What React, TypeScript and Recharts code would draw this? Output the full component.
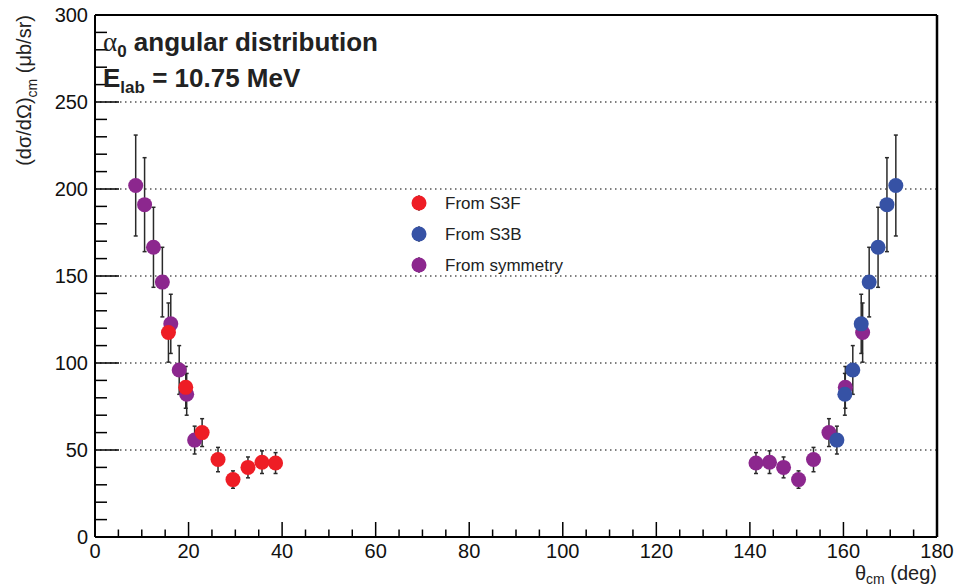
import React from 'react';
import { ScatterChart, Scatter, XAxis, YAxis, CartesianGrid, ErrorBar, Legend } from 'recharts';

// theta_cm (deg), dsigma/dOmega (ub/sr), error
const s3fTheta = [15.7, 19.4, 22.9, 26.3, 29.5, 32.7, 35.7, 38.6];
const s3fValue = [117.5, 86, 60, 44.5, 33, 40, 43, 42.5];
const s3fError = [17, 12, 8, 7, 5, 6, 6.5, 6];

const s3bTheta = [171.2, 169.3, 167.4, 165.5, 163.8, 162.0, 160.3, 158.6];
const s3bValue = [202, 191, 166.5, 146.5, 122.5, 96, 82, 55.7];
const s3bError = [29, 27, 23, 20, 17, 14, 12, 8];

const symTheta = [8.7, 10.6, 12.5, 14.4, 16.2, 18.0, 19.6, 21.3, 164.1, 160.4, 156.9, 153.6, 150.4, 147.2, 144.2, 141.3];
const symValue = [202, 191, 166.5, 146.5, 122.5, 96, 82, 55.7, 117.5, 86, 60, 44.5, 33, 40, 43, 42.5];
const symError = [29, 27, 23, 20, 17, 14, 12, 8, 17, 12, 8, 7, 5, 6, 6.5, 6];

const xTicks = [0, 5, 10, 15, 20, 25, 30, 35, 40, 45, 50, 55, 60, 65, 70, 75, 80, 85, 90, 95, 100, 105, 110, 115, 120, 125, 130, 135, 140, 145, 150, 155, 160, 165, 170, 175, 180];
const yTicks = [0, 10, 20, 30, 40, 50, 60, 70, 80, 90, 100, 110, 120, 130, 140, 150, 160, 170, 180, 190, 200, 210, 220, 230, 240, 250, 260, 270, 280, 290, 300];
const gridValues = [50, 100, 150, 200, 250];

const RED = '#ee1d25';
const BLUE = '#3652a5';
const PURPLE = '#8c278e';

const legendItems = [
  { name: 'From S3F', color: RED },
  { name: 'From S3B', color: BLUE },
  { name: 'From symmetry', color: PURPLE },
];

const FONT = '"Liberation Sans", Arial, Helvetica, sans-serif';

const toRows = (theta: number[], value: number[], err: number[]) =>
  theta.map((t, i) => ({ theta: t, value: value[i], err: err[i] }));

const s3fData = toRows(s3fTheta, s3fValue, s3fError);
const s3bData = toRows(s3bTheta, s3bValue, s3bError);
const symData = toRows(symTheta, symValue, symError);

const dot = (color: string) => (props: any) => (
  <circle cx={props.cx} cy={props.cy} r={7.5} fill={color} />
);

const BottomTick = ({ x, y, payload }: any) => {
  const major = payload.value % 20 === 0;
  return (
    <g>
      <line x1={x} x2={x} y1={y} y2={y - (major ? 15 : 7.5)} stroke="#000" strokeWidth={1.5} />
      {major && (
        <text x={x} y={y + 21} textAnchor="middle" fontSize={20} fontFamily={FONT} fill="#111">
          {payload.value}
        </text>
      )}
    </g>
  );
};

const TopTick = ({ x, y, payload }: any) => {
  const major = payload.value % 20 === 0;
  return <line x1={x} x2={x} y1={y} y2={y + (major ? 16 : 8)} stroke="#000" strokeWidth={1.5} />;
};

const LeftTick = ({ x, y, payload }: any) => {
  const major = payload.value % 50 === 0;
  return (
    <g>
      <line x1={x} x2={x + (major ? 24 : 12)} y1={y} y2={y} stroke="#000" strokeWidth={1.5} />
      {major && (
        <text x={x - 7} y={y + 7} textAnchor="end" fontSize={20} fontFamily={FONT} fill="#111">
          {payload.value}
        </text>
      )}
    </g>
  );
};

const RightTick = ({ x, y, payload }: any) => {
  const major = payload.value % 50 === 0;
  return <line x1={x} x2={x - (major ? 24 : 12)} y1={y} y2={y} stroke="#000" strokeWidth={1.5} />;
};

const renderLegend = () => (
  <svg width={180} height={100}>
    {legendItems.map((item, i) => (
      <g key={item.name} transform={`translate(0, ${i * 31})`}>
        <line x1={11} x2={11} y1={3} y2={19} stroke="#222" strokeWidth={1.2} />
        <circle cx={11} cy={11} r={7.5} fill={item.color} />
        <text x={37} y={17} fontSize={17} fontFamily={FONT} fill="#222">
          {item.name}
        </text>
      </g>
    ))}
  </svg>
);

export default function App() {
  return (
    <div style={{ position: 'absolute', left: 0, top: 0, width: 954, height: 588, background: '#fff' }}>
      <ScatterChart width={954} height={588} margin={{ top: 14, right: 16, bottom: 0, left: 0 }}>
        <CartesianGrid
          vertical={false}
          horizontalValues={gridValues}
          stroke="#000"
          strokeWidth={1.2}
          strokeDasharray="1.5 3.5"
        />
        <XAxis
          dataKey="theta"
          type="number"
          domain={[0, 180]}
          ticks={xTicks}
          interval={0}
          height={51}
          tickSize={0}
          tickMargin={0}
          tick={<BottomTick />}
          axisLine={{ stroke: '#000', strokeWidth: 2 }}
        />
        <XAxis
          xAxisId="top"
          orientation="top"
          type="number"
          domain={[0, 180]}
          ticks={xTicks}
          interval={0}
          height={1}
          tickSize={0}
          tickMargin={0}
          tick={<TopTick />}
          axisLine={{ stroke: '#000', strokeWidth: 2 }}
        />
        <YAxis
          dataKey="value"
          type="number"
          domain={[0, 300]}
          ticks={yTicks}
          interval={0}
          width={95}
          tickSize={0}
          tickMargin={0}
          tick={<LeftTick />}
          axisLine={{ stroke: '#000', strokeWidth: 2 }}
        />
        <YAxis
          yAxisId="right"
          orientation="right"
          type="number"
          domain={[0, 300]}
          ticks={yTicks}
          interval={0}
          width={1}
          tickSize={0}
          tickMargin={0}
          tick={<RightTick />}
          axisLine={{ stroke: '#000', strokeWidth: 2.5 }}
        />
        <Legend
          layout="vertical"
          align="center"
          verticalAlign="middle"
          content={renderLegend}
          wrapperStyle={{ left: 408, top: 192, width: 180, height: 100 }}
        />
        <Scatter name="From symmetry" data={symData} shape={dot(PURPLE)} isAnimationActive={false}>
          <ErrorBar dataKey="err" direction="y" width={2} stroke="#2a2a2a" strokeWidth={1.5} />
        </Scatter>
        <Scatter name="From S3F" data={s3fData} shape={dot(RED)} isAnimationActive={false}>
          <ErrorBar dataKey="err" direction="y" width={2} stroke="#2a2a2a" strokeWidth={1.5} />
        </Scatter>
        <Scatter name="From S3B" data={s3bData} shape={dot(BLUE)} isAnimationActive={false}>
          <ErrorBar dataKey="err" direction="y" width={2} stroke="#2a2a2a" strokeWidth={1.5} />
        </Scatter>
      </ScatterChart>
      <svg
        width={954}
        height={588}
        style={{ position: 'absolute', left: 0, top: 0, pointerEvents: 'none' }}
        fontFamily={FONT}
      >
        <text x={103} y={51} fontSize={26} fontWeight="bold" fill="#222">
          <tspan fontFamily='"Liberation Serif", serif' fontWeight="normal" fontSize={27}>α</tspan>
          <tspan fontSize={17} dy={6}>0</tspan>
          <tspan dy={-6}> angular distribution</tspan>
        </text>
        <text x={103} y={87} fontSize={26} fontWeight="bold" fill="#222">
          E<tspan fontSize={17} dy={6}>lab</tspan>
          <tspan dy={-6}> = 10.75 MeV</tspan>
        </text>
        <text transform="translate(31, 15) rotate(-90)" textAnchor="end" fontSize={20} fill="#222">
          (dσ/dΩ)<tspan fontSize={14} dy={6}>cm</tspan>
          <tspan dy={-6}>  (μb/sr)</tspan>
        </text>
        <text x={937} y={580} textAnchor="end" fontSize={20} fill="#222">
          θ<tspan fontSize={14} dy={4}>cm</tspan>
          <tspan dy={-4}> (deg)</tspan>
        </text>
      </svg>
    </div>
  );
}
